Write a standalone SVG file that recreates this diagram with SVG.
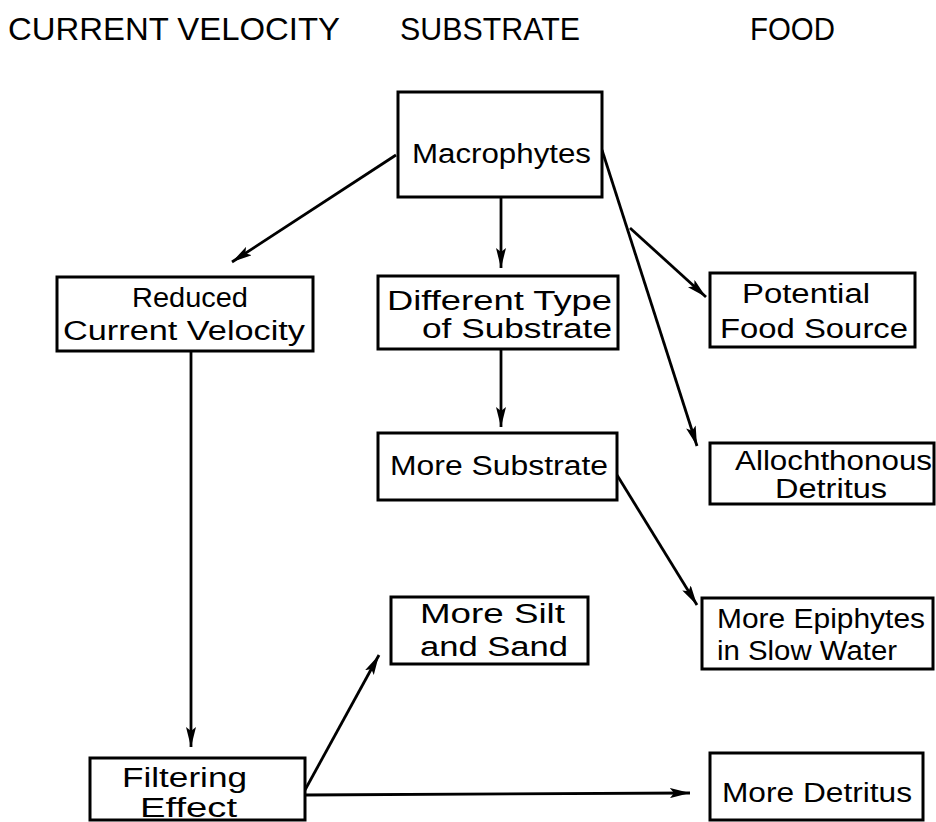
<svg xmlns="http://www.w3.org/2000/svg" width="936" height="822" viewBox="0 0 936 822">
<style>
.box{fill:#fff;stroke:#000;stroke-width:3}
.t{font-family:"Liberation Sans",Arial,sans-serif;font-size:27px;fill:#000}
.h{font-family:"Liberation Sans",Arial,sans-serif;font-size:31px;fill:#000}
.c{fill:none;stroke:#000;stroke-width:2.8}
</style>
<defs>
<marker id="ah" viewBox="0 0 20 10" refX="20" refY="5" markerWidth="20" markerHeight="10" markerUnits="userSpaceOnUse" orient="auto">
<path d="M0,0 L20,5 L0,10 L4,5 Z" fill="#000"/>
</marker>
</defs>
<g id="headers">
<text class="h" x="8" y="40" textLength="332" lengthAdjust="spacingAndGlyphs">CURRENT VELOCITY</text>
<text class="h" x="400" y="40" textLength="180" lengthAdjust="spacingAndGlyphs">SUBSTRATE</text>
<text class="h" x="750" y="40" textLength="85" lengthAdjust="spacingAndGlyphs">FOOD</text>
</g>
<g id="connectors">
<line class="c" x1="396" y1="155" x2="232" y2="262" marker-end="url(#ah)"/>
<line class="c" x1="501" y1="197" x2="501" y2="268" marker-end="url(#ah)"/>
<line class="c" x1="602" y1="150" x2="697" y2="446" marker-end="url(#ah)"/>
<line class="c" x1="630" y1="228" x2="706" y2="297" marker-end="url(#ah)"/>
<line class="c" x1="501" y1="349" x2="501" y2="427" marker-end="url(#ah)"/>
<line class="c" x1="191" y1="351" x2="191" y2="747" marker-end="url(#ah)"/>
<line class="c" x1="617" y1="475" x2="697" y2="605" marker-end="url(#ah)"/>
<line class="c" x1="305" y1="790" x2="379" y2="655" marker-end="url(#ah)"/>
<line class="c" x1="305" y1="795" x2="690" y2="793" marker-end="url(#ah)"/>
</g>
<g id="macrophytes">
<rect class="box" x="398" y="92" width="204" height="105"/>
<text class="t" x="412" y="163" textLength="179" lengthAdjust="spacingAndGlyphs">Macrophytes</text>
</g>
<g id="reduced-current-velocity">
<rect class="box" x="57" y="277" width="256" height="74"/>
<text class="t" x="132" y="307" textLength="116" lengthAdjust="spacingAndGlyphs">Reduced</text>
<text class="t" x="63" y="340" textLength="242" lengthAdjust="spacingAndGlyphs">Current  Velocity</text>
</g>
<g id="different-type-of-substrate">
<rect class="box" x="378" y="276" width="240" height="73"/>
<text class="t" x="387" y="310" textLength="225" lengthAdjust="spacingAndGlyphs">Different  Type</text>
<text class="t" x="422" y="338" textLength="190" lengthAdjust="spacingAndGlyphs">of  Substrate</text>
</g>
<g id="potential-food-source">
<rect class="box" x="710" y="273" width="205" height="74"/>
<text class="t" x="742" y="303" textLength="128" lengthAdjust="spacingAndGlyphs">Potential</text>
<text class="t" x="720" y="338" textLength="188" lengthAdjust="spacingAndGlyphs">Food  Source</text>
</g>
<g id="allochthonous-detritus">
<rect class="box" x="710" y="443" width="224" height="61"/>
<text class="t" x="735" y="470" textLength="197" lengthAdjust="spacingAndGlyphs">Allochthonous</text>
<text class="t" x="775" y="498" textLength="112" lengthAdjust="spacingAndGlyphs">Detritus</text>
</g>
<g id="more-substrate">
<rect class="box" x="378" y="433" width="239" height="67"/>
<text class="t" x="390" y="475" textLength="218" lengthAdjust="spacingAndGlyphs">More Substrate</text>
</g>
<g id="more-silt-and-sand">
<rect class="box" x="391" y="597" width="197" height="67"/>
<text class="t" x="420" y="623" textLength="145" lengthAdjust="spacingAndGlyphs">More  Silt</text>
<text class="t" x="420" y="656" textLength="148" lengthAdjust="spacingAndGlyphs">and  Sand</text>
</g>
<g id="more-epiphytes">
<rect class="box" x="702" y="598" width="231" height="71"/>
<text class="t" x="717" y="628" textLength="208" lengthAdjust="spacingAndGlyphs">More Epiphytes</text>
<text class="t" x="717" y="660" textLength="180" lengthAdjust="spacingAndGlyphs">in  Slow Water</text>
</g>
<g id="filtering-effect">
<rect class="box" x="90" y="758" width="215" height="62"/>
<text class="t" x="122" y="787" textLength="125" lengthAdjust="spacingAndGlyphs">Filtering</text>
<text class="t" x="140" y="817" textLength="97" lengthAdjust="spacingAndGlyphs">Effect</text>
</g>
<g id="more-detritus">
<rect class="box" x="710" y="753" width="213" height="67"/>
<text class="t" x="722" y="802" textLength="190" lengthAdjust="spacingAndGlyphs">More Detritus</text>
</g>
</svg>
